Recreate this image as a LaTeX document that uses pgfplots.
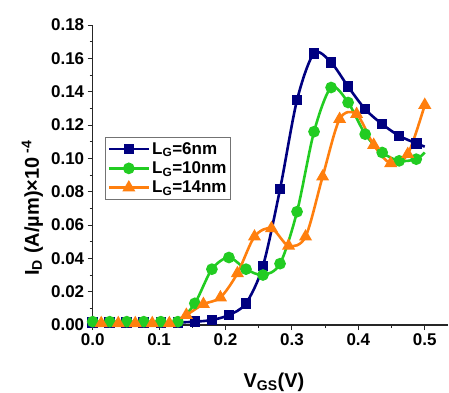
\documentclass[border=0pt]{standalone}
\usepackage{pgfplots}
\pgfplotsset{compat=1.18}
\usepackage{fontspec}
\setmainfont{Liberation Sans}
\definecolor{cblue}{RGB}{0,0,128}
\definecolor{cgreen}{RGB}{34,204,34}
\definecolor{corange}{RGB}{255,127,14}
\begin{document}
\begin{tikzpicture}
\begin{axis}[
  at={(0,0)}, anchor=south west,
  scale only axis, width=355.3pt, height=300pt,
  xmin=0, xmax=0.535, ymin=0, ymax=0.18,
  clip=false,
  axis x line=bottom, axis y line=left,
  axis line style={-, line width=1.1pt, black!85},
  every tick/.style={line width=1pt, black!85},
  tick align=outside,
  major tick length=5pt, minor tick length=3pt,
  xtick={0,0.1,0.2,0.3,0.4,0.5}, minor x tick num=1,
  ytick={0,0.02,0.04,0.06,0.08,0.10,0.12,0.14,0.16,0.18}, minor y tick num=1,
  /pgf/number format/assume math mode=true,
  xticklabel style={/pgf/number format/.cd, fixed, fixed zerofill, precision=1},
  yticklabel style={/pgf/number format/.cd, fixed, fixed zerofill, precision=2},
  ticklabel style={font=\fontsize{17}{20}\selectfont\bfseries},
  xlabel={V\textsubscript{GS}(V)},
  ylabel={I\textsubscript{D} (A/\textmu m)×10\textsuperscript{ -4}},
  label style={font=\fontsize{20}{24}\selectfont\bfseries},
  xlabel style={at={(axis description cs:0.51,-0.19)}, anchor=center},
  ylabel style={at={(axis description cs:-0.17,0.39)}, anchor=center, rotate=0},
  legend style={at={(axis description cs:0.035,0.627)}, anchor=north west,
    draw=black!55, line width=0.8pt, font=\fontsize{17}{20}\selectfont\bfseries,
    inner xsep=2pt, inner ysep=3pt, row sep=2pt, cells={anchor=west}},
  legend image code/.code={\draw[#1, mark indices={2}] plot coordinates {(0pt,0pt) (20pt,0pt) (40pt,0pt)};},
  every axis plot/.append style={line width=2.6pt, smooth, tension=0.5},
]
\addplot[cblue, mark=square*, mark size=4pt, mark options={solid}, mark indices={1,...,20}] coordinates {
(0,0.0015) (0.0256,0.0015) (0.0513,0.0015) (0.0769,0.0015) (0.1026,0.0015) (0.1282,0.0015)
(0.1538,0.002) (0.1795,0.003) (0.2051,0.006) (0.2308,0.013) (0.2564,0.0355) (0.2821,0.0815)
(0.3077,0.135) (0.3333,0.163) (0.3590,0.1575) (0.3846,0.143) (0.4103,0.1295) (0.4359,0.1205)
(0.4615,0.1135) (0.4872,0.109) (0.5,0.107)};
\addlegendentry{L\textsubscript{G}=6nm}
\addplot[cgreen, mark=*, mark size=4.5pt, mark options={solid}, mark indices={1,...,20}] coordinates {
(0,0.002) (0.0256,0.002) (0.0513,0.002) (0.0769,0.002) (0.1026,0.002) (0.1282,0.002)
(0.1538,0.013) (0.1795,0.0335) (0.2051,0.0405) (0.2308,0.0335) (0.2564,0.030) (0.2821,0.0368)
(0.3077,0.068) (0.3333,0.116) (0.3590,0.1425) (0.3846,0.1335) (0.4103,0.1145) (0.4359,0.1035)
(0.4615,0.0985) (0.4872,0.0995) (0.5,0.1035)};
\addlegendentry{L\textsubscript{G}=10nm}
\addplot[corange, mark=triangle*, mark size=5pt, mark options={solid}, mark indices={2,...,21}] coordinates {
(0,0.001) (0.0128,0.001) (0.0385,0.001) (0.0641,0.001) (0.0897,0.001) (0.1154,0.001)
(0.1410,0.006) (0.1667,0.0125) (0.1923,0.0165) (0.2179,0.031) (0.2436,0.053) (0.2692,0.058)
(0.2949,0.0475) (0.3205,0.053) (0.3462,0.089) (0.3718,0.1235) (0.3974,0.1265) (0.4231,0.108)
(0.4487,0.097) (0.4744,0.1025) (0.5,0.132)};
\addlegendentry{L\textsubscript{G}=14nm}
\end{axis}
\pgfresetboundingbox
\path (-92.7pt,-67pt) rectangle (356.3pt,325pt);
\end{tikzpicture}
\end{document}
